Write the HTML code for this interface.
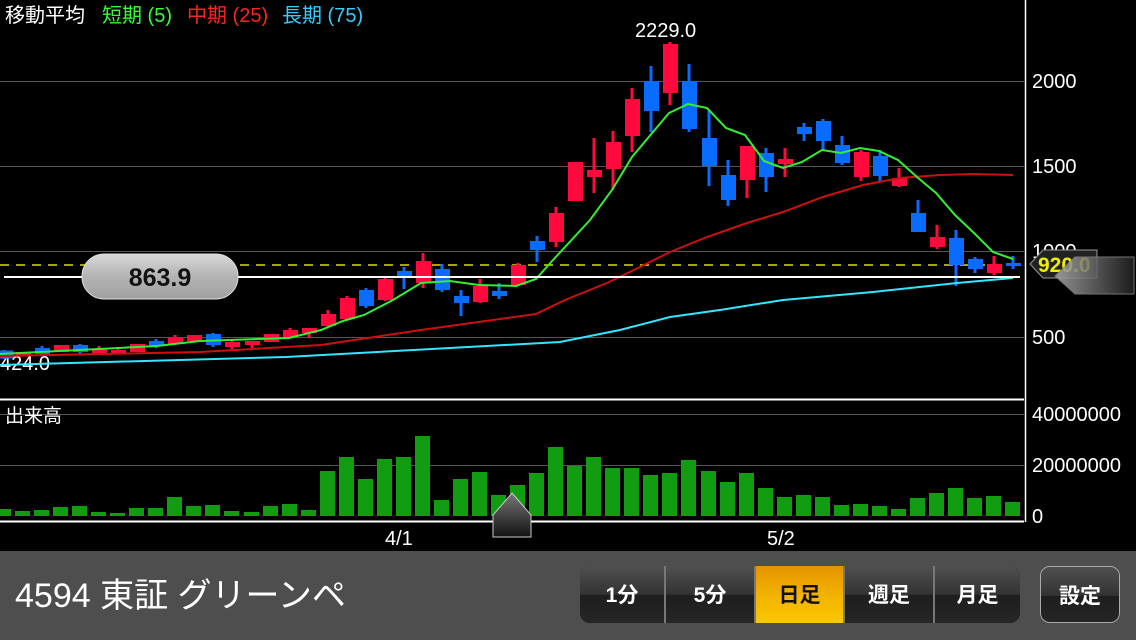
<!DOCTYPE html>
<html><head><meta charset="utf-8"><style>
html,body{margin:0;padding:0;background:#000;}
#w{position:relative;width:1136px;height:640px;overflow:hidden;background:#000;font-family:"Liberation Sans","Noto Sans CJK JP",sans-serif;}
.bar{position:absolute;left:0;top:551px;width:1136px;height:89px;background:#4e4e4e;}
.title{position:absolute;left:15px;top:574px;color:#fff;font-size:34px;line-height:44px;}
.seg{position:absolute;top:566px;height:57px;border-radius:10px;overflow:hidden;display:flex;background:#222;}
.b{height:57px;line-height:59px;text-align:center;color:#fff;font-weight:bold;font-size:21px;background:linear-gradient(#505050,#333 50%,#1e1e1e 51%,#262626);border-right:2px solid #777;box-sizing:border-box;}
.b.on{background:linear-gradient(#e59300,#f2b200 50%,#fbc800);color:#111;}
</style></head><body><div id="w">
<svg width="1136" height="551" style="position:absolute;left:0;top:0" font-family="Liberation Sans, Noto Sans CJK JP, sans-serif">
<defs>
<linearGradient id="pill" x1="0" y1="0" x2="0" y2="1"><stop offset="0" stop-color="#d8d8d8"/><stop offset="0.5" stop-color="#b4b4b4"/><stop offset="1" stop-color="#a0a0a0"/></linearGradient>
<linearGradient id="arr" x1="0" y1="0" x2="0" y2="1"><stop offset="0" stop-color="#777"/><stop offset="1" stop-color="#111"/></linearGradient>
<linearGradient id="mk" x1="0" y1="0" x2="1" y2="0"><stop offset="0" stop-color="#aaa"/><stop offset="1" stop-color="#222"/></linearGradient>
<filter id="bl"><feGaussianBlur stdDeviation="3"/></filter>
</defs>
<g stroke="#555" stroke-width="1">
<line x1="0" y1="81.5" x2="1024" y2="81.5"/><line x1="0" y1="166.5" x2="1024" y2="166.5"/>
<line x1="0" y1="251.5" x2="1024" y2="251.5"/><line x1="0" y1="337.5" x2="1024" y2="337.5"/>
<line x1="0" y1="414.5" x2="1024" y2="414.5"/><line x1="0" y1="465.5" x2="1024" y2="465.5"/>
</g>
<line x1="1025.5" y1="0" x2="1025.5" y2="522" stroke="#fff" stroke-width="1.5"/>
<line x1="0" y1="399.5" x2="1024" y2="399.5" stroke="#fff" stroke-width="2"/>
<line x1="0" y1="521.5" x2="1024" y2="521.5" stroke="#fff" stroke-width="2"/>
<g fill="#fff" font-size="20">
<text x="1032" y="88">2000</text><text x="1032" y="173">1500</text><text x="1032" y="258">1000</text><text x="1032" y="344">500</text>
<text x="1032" y="421">40000000</text><text x="1032" y="472">20000000</text><text x="1032" y="523">0</text>
<text x="635" y="37">2229.0</text><text x="0" y="370">424.0</text>
<text x="5" y="422" font-size="19">出来高</text>
<text x="385" y="545">4/1</text><text x="767" y="545">5/2</text>
</g>
<g font-size="20"><text x="5" y="22" fill="#fff">移動平均</text><text x="102" y="22" fill="#3f3">短期 (5)</text><text x="187" y="22" fill="#f22">中期 (25)</text><text x="282" y="22" fill="#3cf">長期 (75)</text></g>
<line x1="0" y1="265" x2="1024" y2="265" stroke="#dd0" stroke-width="1.5" stroke-dasharray="9,7"/>
<g fill="#129c12">
<rect x="-4" y="509" width="15" height="7"/><rect x="15" y="511" width="15" height="5"/><rect x="34" y="510" width="15" height="6"/><rect x="53" y="507" width="15" height="9"/><rect x="72" y="506" width="15" height="10"/><rect x="91" y="512" width="15" height="4"/><rect x="110" y="513" width="15" height="3"/><rect x="129" y="508" width="15" height="8"/><rect x="148" y="508" width="15" height="8"/><rect x="167" y="497" width="15" height="19"/><rect x="186" y="506" width="15" height="10"/><rect x="205" y="505" width="15" height="11"/><rect x="224" y="511" width="15" height="5"/><rect x="244" y="512" width="15" height="4"/><rect x="263" y="506" width="15" height="10"/><rect x="282" y="504" width="15" height="12"/><rect x="301" y="510" width="15" height="6"/><rect x="320" y="471" width="15" height="45"/><rect x="339" y="457" width="15" height="59"/><rect x="358" y="479" width="15" height="37"/><rect x="377" y="459" width="15" height="57"/><rect x="396" y="457" width="15" height="59"/><rect x="415" y="436" width="15" height="80"/><rect x="434" y="500" width="15" height="16"/><rect x="453" y="479" width="15" height="37"/><rect x="472" y="472" width="15" height="44"/><rect x="491" y="495" width="15" height="21"/><rect x="510" y="485" width="15" height="31"/><rect x="529" y="473" width="15" height="43"/><rect x="548" y="447" width="15" height="69"/><rect x="567" y="466" width="15" height="50"/><rect x="586" y="457" width="15" height="59"/><rect x="605" y="468" width="15" height="48"/><rect x="624" y="468" width="15" height="48"/><rect x="643" y="475" width="15" height="41"/><rect x="662" y="473" width="15" height="43"/><rect x="681" y="460" width="15" height="56"/><rect x="701" y="471" width="15" height="45"/><rect x="720" y="482" width="15" height="34"/><rect x="739" y="473" width="15" height="43"/><rect x="758" y="488" width="15" height="28"/><rect x="777" y="497" width="15" height="19"/><rect x="796" y="495" width="15" height="21"/><rect x="815" y="497" width="15" height="19"/><rect x="834" y="505" width="15" height="11"/><rect x="853" y="504" width="15" height="12"/><rect x="872" y="506" width="15" height="10"/><rect x="891" y="509" width="15" height="7"/><rect x="910" y="498" width="15" height="18"/><rect x="929" y="493" width="15" height="23"/><rect x="948" y="488" width="15" height="28"/><rect x="967" y="498" width="15" height="18"/><rect x="986" y="496" width="15" height="20"/><rect x="1005" y="502" width="15" height="14"/>
</g>
<path d="M493 537 V515 L512 493 L531 515 V537 Z" fill="url(#arr)" stroke="#ccc" stroke-width="1"/>
<g stroke-width="3">
<g stroke="#0a6cff" fill="#0a6cff">
<line x1="4" y1="350" x2="4" y2="359"/><rect x="-3" y="352" width="15" height="5"/>
<line x1="42" y1="346" x2="42" y2="356"/><rect x="35" y="348" width="15" height="6" stroke="none"/>
<line x1="80" y1="344" x2="80" y2="354"/><rect x="73" y="345" width="15" height="7" stroke="none"/>
<line x1="156" y1="339" x2="156" y2="348"/><rect x="149" y="341" width="15" height="5" stroke="none"/>
<line x1="213" y1="333" x2="213" y2="347"/><rect x="206" y="334" width="15" height="11" stroke="none"/>
<line x1="366" y1="288" x2="366" y2="308"/><rect x="359" y="290" width="15" height="16" stroke="none"/>
<line x1="404" y1="267" x2="404" y2="289"/><rect x="397" y="271" width="15" height="5" stroke="none"/>
<line x1="442" y1="264" x2="442" y2="292"/><rect x="435" y="269" width="15" height="21" stroke="none"/>
<line x1="461" y1="290" x2="461" y2="316"/><rect x="454" y="296" width="15" height="7" stroke="none"/>
<line x1="499" y1="283" x2="499" y2="299"/><rect x="492" y="291" width="15" height="5" stroke="none"/>
<line x1="537" y1="236" x2="537" y2="262"/><rect x="530" y="241" width="15" height="9" stroke="none"/>
<line x1="651" y1="66" x2="651" y2="132"/><rect x="644" y="81" width="15" height="30" stroke="none"/>
<line x1="689" y1="64" x2="689" y2="132"/><rect x="682" y="81" width="15" height="48" stroke="none"/>
<line x1="709" y1="110" x2="709" y2="186"/><rect x="702" y="138" width="15" height="28" stroke="none"/>
<line x1="728" y1="160" x2="728" y2="206"/><rect x="721" y="175" width="15" height="25" stroke="none"/>
<line x1="766" y1="148" x2="766" y2="192"/><rect x="759" y="153" width="15" height="24" stroke="none"/>
<line x1="804" y1="123" x2="804" y2="141"/><rect x="797" y="127" width="15" height="7" stroke="none"/>
<line x1="823" y1="119" x2="823" y2="150"/><rect x="816" y="121" width="15" height="20" stroke="none"/>
<line x1="842" y1="136" x2="842" y2="165"/><rect x="835" y="145" width="15" height="18" stroke="none"/>
<line x1="880" y1="150" x2="880" y2="181"/><rect x="873" y="156" width="15" height="20" stroke="none"/>
<line x1="918" y1="200" x2="918" y2="232"/><rect x="911" y="213" width="15" height="19" stroke="none"/>
<line x1="956" y1="230" x2="956" y2="286"/><rect x="949" y="238" width="15" height="27" stroke="none"/>
<line x1="975" y1="257" x2="975" y2="273"/><rect x="968" y="259" width="15" height="10" stroke="none"/>
<line x1="1013" y1="256" x2="1013" y2="269"/><rect x="1006" y="263" width="15" height="3" stroke="none"/>
</g>
<g stroke="#ff0a3c" fill="#ff0a3c">
<rect x="16" y="352" width="15" height="4" stroke="none"/>
<rect x="54" y="345" width="15" height="7" stroke="none"/>
<line x1="99" y1="346" x2="99" y2="355"/><rect x="92" y="349" width="15" height="5" stroke="none"/>
<line x1="118" y1="348" x2="118" y2="354"/><rect x="111" y="350" width="15" height="3" stroke="none"/>
<rect x="130" y="344" width="15" height="8" stroke="none"/>
<line x1="175" y1="335" x2="175" y2="344"/><rect x="168" y="337" width="15" height="7" stroke="none"/>
<rect x="187" y="335" width="15" height="6" stroke="none"/>
<line x1="232" y1="340" x2="232" y2="350"/><rect x="225" y="342" width="15" height="5" stroke="none"/>
<line x1="252" y1="341" x2="252" y2="348"/><rect x="245" y="341" width="15" height="4" stroke="none"/>
<rect x="264" y="334" width="15" height="8" stroke="none"/>
<line x1="290" y1="328" x2="290" y2="338"/><rect x="283" y="330" width="15" height="8" stroke="none"/>
<line x1="309" y1="328" x2="309" y2="338"/><rect x="302" y="328" width="15" height="5" stroke="none"/>
<line x1="328" y1="310" x2="328" y2="327"/><rect x="321" y="314" width="15" height="12" stroke="none"/>
<line x1="347" y1="296" x2="347" y2="319"/><rect x="340" y="298" width="15" height="21" stroke="none"/>
<line x1="385" y1="277" x2="385" y2="301"/><rect x="378" y="279" width="15" height="21" stroke="none"/>
<line x1="423" y1="253" x2="423" y2="288"/><rect x="416" y="261" width="15" height="22" stroke="none"/>
<line x1="480" y1="279" x2="480" y2="303"/><rect x="473" y="286" width="15" height="16" stroke="none"/>
<line x1="518" y1="263" x2="518" y2="286"/><rect x="511" y="265" width="15" height="20" stroke="none"/>
<line x1="556" y1="207" x2="556" y2="247"/><rect x="549" y="213" width="15" height="29" stroke="none"/>
<rect x="568" y="162" width="15" height="39" stroke="none"/>
<line x1="594" y1="138" x2="594" y2="193"/><rect x="587" y="170" width="15" height="7" stroke="none"/>
<line x1="613" y1="131" x2="613" y2="190"/><rect x="606" y="142" width="15" height="27" stroke="none"/>
<line x1="632" y1="88" x2="632" y2="152"/><rect x="625" y="99" width="15" height="37" stroke="none"/>
<line x1="670" y1="42" x2="670" y2="105"/><rect x="663" y="44" width="15" height="49" stroke="none"/>
<line x1="747" y1="146" x2="747" y2="198"/><rect x="740" y="146" width="15" height="34" stroke="none"/>
<line x1="785" y1="148" x2="785" y2="177"/><rect x="778" y="159" width="15" height="5" stroke="none"/>
<line x1="861" y1="150" x2="861" y2="181"/><rect x="854" y="152" width="15" height="25" stroke="none"/>
<line x1="899" y1="168" x2="899" y2="187"/><rect x="892" y="178" width="15" height="8" stroke="none"/>
<line x1="937" y1="225" x2="937" y2="249"/><rect x="930" y="237" width="15" height="10" stroke="none"/>
<line x1="994" y1="256" x2="994" y2="275"/><rect x="987" y="264" width="15" height="9" stroke="none"/>
</g></g>
<g fill="none" stroke-width="2">
<polyline stroke="#33e6ff" points="0,365 286,357 450,348 560,342 620,330 670,317 720,310 783,300 873,292 957,283 1013,278"/>
<polyline stroke="#cc1010" points="0,356 200,352 321,345 421,330 536,314 565,300 607,283 640,267 670,252 707,237 747,223 783,212 823,197 863,185 900,178 940,175 973,174 1013,175"/>
<polyline stroke="#33ee33" points="0,354 157,346 200,341 289,338 321,330 343,321 364,315 393,300 421,283 450,281 479,285 516,286 536,279 553,260 590,220 612,190 632,157 669,113 688,104 707,108 726,128 745,135 764,161 783,168 802,162 822,150 841,153 860,148 879,151 898,160 917,177 936,193 955,215 974,233 993,252 1013,259"/>
</g>
<line x1="4" y1="277" x2="1020" y2="277" stroke="#fff" stroke-width="6" opacity="0.5" filter="url(#bl)"/>
<line x1="4" y1="277" x2="1020" y2="277" stroke="#fff" stroke-width="2"/>
<rect x="82" y="254" width="156" height="45" rx="22" fill="url(#pill)" stroke="#ddd" stroke-width="1"/>
<text x="160" y="286" text-anchor="middle" font-size="25" font-weight="bold" fill="#111">863.9</text>
<path d="M1030 264 L1043 250 H1097 V278 H1043 Z" fill="#222" stroke="#999" stroke-width="1"/>
<text x="1038" y="272" font-size="21" font-weight="bold" fill="#ee0">920.0</text>
<path d="M1055 276 L1075 257 H1134 V294 H1075 Z" fill="url(#mk)" opacity="0.85" stroke="#888" stroke-width="1"/>
</svg>
<div class="bar"></div>
<div class="title">4594 東証 グリーンペ</div>
<div class="seg" style="left:580px;width:440px;">
<div class="b" style="width:86px">1分</div><div class="b" style="width:90px">5分</div><div class="b on" style="width:89px">日足</div><div class="b" style="width:90px">週足</div><div class="b" style="width:85px;border-right:none">月足</div>
</div>
<div class="seg" style="left:1040px;width:80px;border:1px solid #aaa;box-sizing:border-box;"><div class="b" style="width:80px;border:none">設定</div></div>
</div></body></html>
